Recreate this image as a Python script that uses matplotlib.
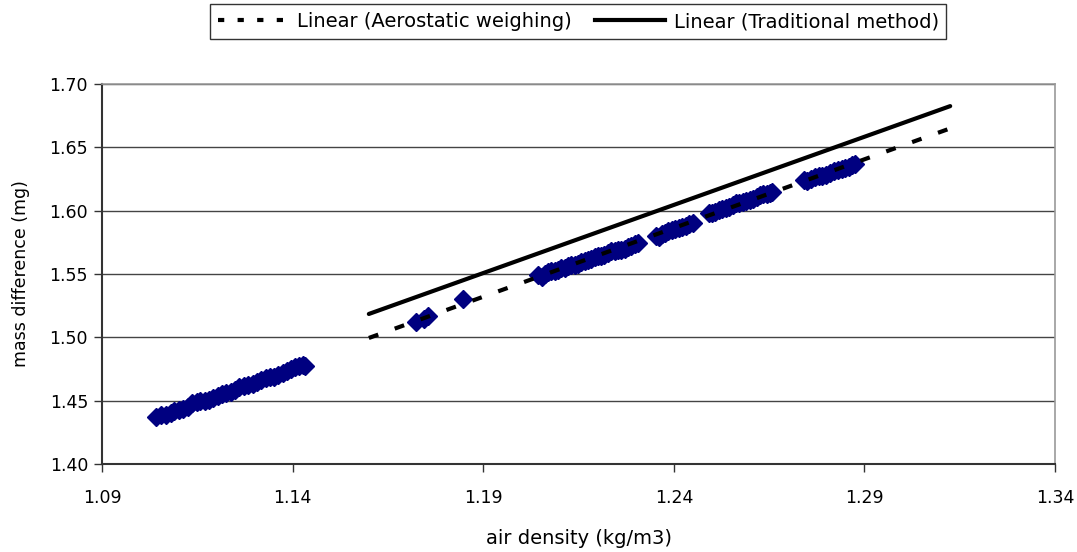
import matplotlib
matplotlib.use("Agg")
import matplotlib.pyplot as plt
from matplotlib.lines import Line2D

# measured points: air density (kg/m3) vs mass difference (mg)
density = [
    1.1042, 1.1055, 1.1068, 1.1080, 1.1090, 1.1101, 1.1112, 1.1125, 1.1136, 1.1148,
    1.1158, 1.1170, 1.1181, 1.1192, 1.1203, 1.1215, 1.1226, 1.1238, 1.1249, 1.1260,
    1.1272, 1.1283, 1.1295, 1.1306, 1.1318, 1.1329, 1.1340, 1.1352, 1.1363, 1.1374,
    1.1386, 1.1396, 1.1407, 1.1418, 1.1426, 1.1433,
    1.1725, 1.1745, 1.1755,
    1.1848,
    1.2045, 1.2053, 1.2062, 1.2070, 1.2079, 1.2088, 1.2096, 1.2105, 1.2114, 1.2122,
    1.2131, 1.2140, 1.2148, 1.2157, 1.2166, 1.2175, 1.2183, 1.2192, 1.2201, 1.2210,
    1.2218, 1.2227, 1.2236, 1.2245, 1.2254, 1.2262, 1.2271, 1.2280, 1.2289, 1.2298,
    1.2306,
    1.2352, 1.2360, 1.2368, 1.2377, 1.2386, 1.2395, 1.2404, 1.2413, 1.2422, 1.2431,
    1.2440, 1.2450,
    1.2491, 1.2500, 1.2509, 1.2518, 1.2527, 1.2536, 1.2545, 1.2554, 1.2563, 1.2572,
    1.2581, 1.2590, 1.2599, 1.2608, 1.2617, 1.2626, 1.2635, 1.2644, 1.2652, 1.2658,
    1.2741, 1.2750, 1.2760, 1.2770, 1.2780, 1.2790, 1.2800, 1.2810, 1.2820, 1.2830,
    1.2840, 1.2850, 1.2860, 1.2868, 1.2876,
]
mass_diff = [
    1.4370, 1.4390, 1.4385, 1.4405, 1.4418, 1.4425, 1.4432, 1.4452, 1.4478, 1.4490,
    1.4494, 1.4500, 1.4508, 1.4522, 1.4540, 1.4551, 1.4560, 1.4568, 1.4585, 1.4605,
    1.4618, 1.4622, 1.4630, 1.4650, 1.4665, 1.4678, 1.4686, 1.4690, 1.4700, 1.4718,
    1.4735, 1.4752, 1.4765, 1.4775, 1.4782, 1.4770,
    1.5120, 1.5145, 1.5165,
    1.5300,
    1.5490, 1.5480, 1.5500, 1.5515, 1.5520, 1.5522, 1.5530, 1.5545, 1.5548, 1.5562,
    1.5575, 1.5570, 1.5582, 1.5598, 1.5605, 1.5610, 1.5620, 1.5632, 1.5640, 1.5642,
    1.5650, 1.5668, 1.5680, 1.5684, 1.5690, 1.5692, 1.5700, 1.5712, 1.5725, 1.5738,
    1.5745,
    1.5800, 1.5795, 1.5812, 1.5825, 1.5840, 1.5850, 1.5855, 1.5862, 1.5870, 1.5882,
    1.5895, 1.5905,
    1.5979, 1.5985, 1.5990, 1.6002, 1.6012, 1.6020, 1.6030, 1.6048, 1.6060, 1.6062,
    1.6068, 1.6075, 1.6085, 1.6095, 1.6110, 1.6120, 1.6128, 1.6135, 1.6140, 1.6148,
    1.6242, 1.6238, 1.6250, 1.6262, 1.6270, 1.6275, 1.6285, 1.6298, 1.6310, 1.6320,
    1.6330, 1.6338, 1.6345, 1.6360, 1.6368,
]

# linear trendlines (slope, intercept) over the fitted density range
trend_x = [1.16, 1.3125]
aerostatic_fit = (1.085, 0.2409)
traditional_fit = (1.076, 0.2703)

fig = plt.figure(figsize=(10.77, 5.52), dpi=100)
ax = fig.add_axes([0.0947, 0.1594, 0.8849, 0.6884])

ax.plot(density, mass_diff, linestyle="none", marker="D", markersize=9,
        color="#000080", markeredgecolor="#000080", zorder=3)

y_aero = [aerostatic_fit[0] * x + aerostatic_fit[1] for x in trend_x]
y_trad = [traditional_fit[0] * x + traditional_fit[1] for x in trend_x]
ax.plot(trend_x, y_aero, color="black", linewidth=3, dashes=(2.4, 4.2),
        solid_capstyle="butt", dash_capstyle="butt", zorder=4)
ax.plot(trend_x, y_trad, color="black", linewidth=3, solid_capstyle="round", zorder=4)

ax.set_xlim(1.09, 1.34)
ax.set_ylim(1.40, 1.70)
ax.set_xticks([1.09, 1.14, 1.19, 1.24, 1.29, 1.34])
ax.set_xticklabels(["1.09", "1.14", "1.19", "1.24", "1.29", "1.34"])
ax.set_yticks([1.40, 1.45, 1.50, 1.55, 1.60, 1.65, 1.70])
ax.set_yticklabels(["1.40", "1.45", "1.50", "1.55", "1.60", "1.65", "1.70"])
ax.tick_params(axis="both", direction="out", length=6, width=1,
               labelsize=12.5, color="#333333")
ax.tick_params(axis="x", pad=12)
ax.tick_params(axis="y", pad=4)

ax.grid(axis="y", color="#444444", linewidth=1)
ax.set_axisbelow(True)
for side in ["left", "bottom"]:
    ax.spines[side].set_color("#333333")
    ax.spines[side].set_linewidth(1.5)
for side in ["top", "right"]:
    ax.spines[side].set_color("#999999")
    ax.spines[side].set_linewidth(1.2)

ax.set_xlabel("air density (kg/m3)", fontsize=14, labelpad=16)
ax.set_ylabel("mass difference (mg)", fontsize=12.5, labelpad=14)

handles = [
    Line2D([], [], color="black", linewidth=3, dashes=(1.5, 3.2), dash_capstyle="butt"),
    Line2D([], [], color="black", linewidth=3),
]
labels = ["Linear (Aerostatic weighing)", "Linear (Traditional method)"]
leg = fig.legend(handles, labels, loc="upper center", bbox_to_anchor=(0.537, 0.992),
                 ncol=2, frameon=True, fancybox=False, fontsize=14,
                 handlelength=3.6, handletextpad=0.45, columnspacing=1.2,
                 borderpad=0.4, borderaxespad=0)
leg.get_frame().set_edgecolor("black")
leg.get_frame().set_linewidth(1)

fig.savefig("out.png", dpi=100)
